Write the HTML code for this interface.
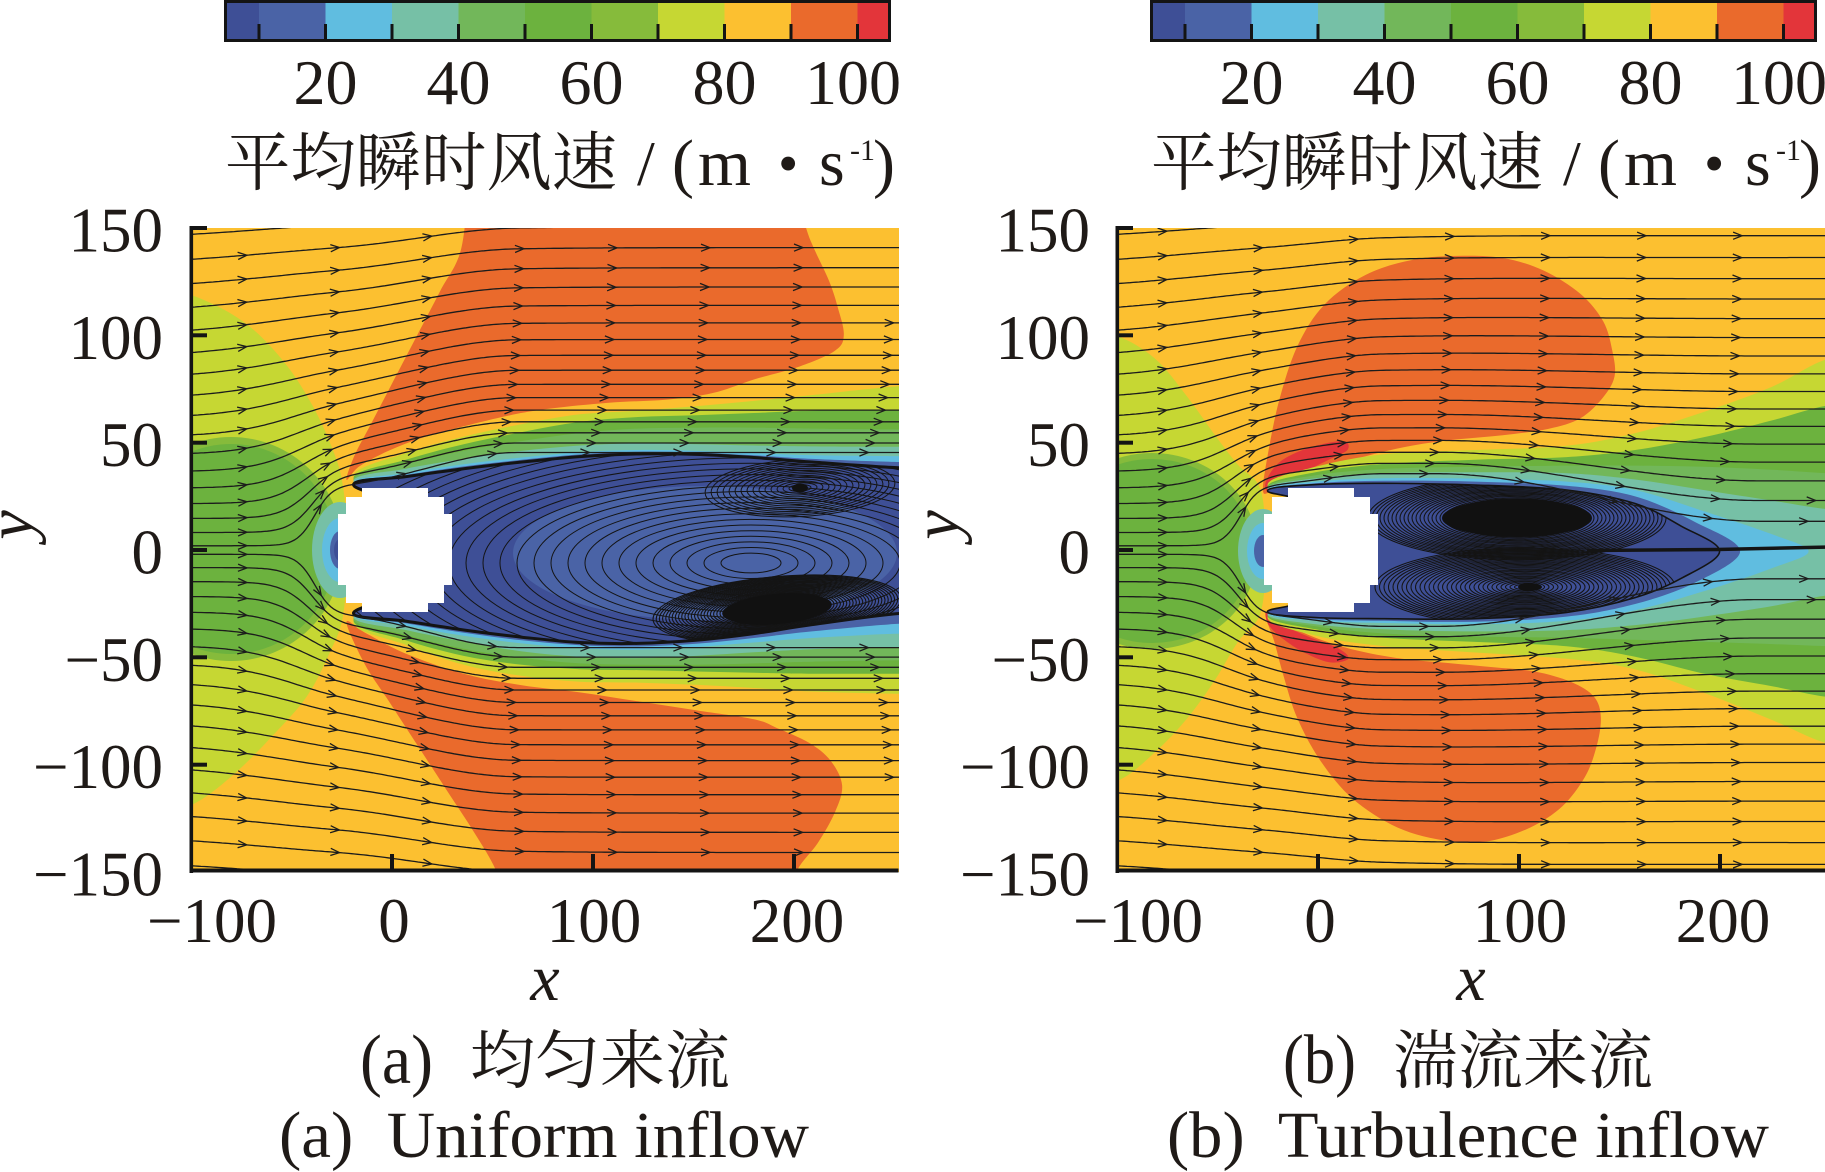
<!DOCTYPE html>
<html><head><meta charset="utf-8">
<style>
html,body{margin:0;padding:0;background:#fff;}
svg{display:block;}
.t{font-family:"Liberation Serif","Noto Serif CJK SC",serif;fill:#1f1a17;}
.cjk{font-family:"Liberation Serif","Noto Serif CJK SC","Noto Sans CJK SC",serif;fill:#1f1a17;}
</style></head>
<body>
<svg id="root" width="1825" height="1172" viewBox="0 0 1825 1172" xmlns="http://www.w3.org/2000/svg">
<defs id="defs">
  <clipPath id="clipP"><rect x="0" y="0" width="708" height="644"/></clipPath>
</defs>

<!-- colorbar A -->
<g transform="translate(224,0)">
  <rect x="0" y="0" width="35" height="42" fill="#3e4f96"/>
  <rect x="35" y="0" width="66.5" height="42" fill="#4a63a6"/>
  <rect x="101.5" y="0" width="66.5" height="42" fill="#60bde0"/>
  <rect x="168" y="0" width="66.5" height="42" fill="#76c0a6"/>
  <rect x="234.5" y="0" width="66.5" height="42" fill="#72b75a"/>
  <rect x="301" y="0" width="66.5" height="42" fill="#6cb23e"/>
  <rect x="367.5" y="0" width="66.5" height="42" fill="#86bb3b"/>
  <rect x="434" y="0" width="66.5" height="42" fill="#c6d733"/>
  <rect x="500.5" y="0" width="66.5" height="42" fill="#fcc030"/>
  <rect x="567" y="0" width="66.5" height="42" fill="#ea6a2c"/>
  <rect x="633.5" y="0" width="33.5" height="42" fill="#e3353a"/>
  <g fill="#141414">
    <rect x="33.5" y="24" width="3" height="16"/><rect x="100" y="24" width="3" height="16"/>
    <rect x="166.5" y="24" width="3" height="16"/><rect x="233" y="24" width="3" height="16"/>
    <rect x="299.5" y="24" width="3" height="16"/><rect x="366" y="24" width="3" height="16"/>
    <rect x="432.5" y="24" width="3" height="16"/><rect x="499" y="24" width="3" height="16"/>
    <rect x="565.5" y="24" width="3" height="16"/><rect x="632" y="24" width="3" height="16"/>
  </g>
  <rect x="1.5" y="1.5" width="664" height="39" fill="none" stroke="#141414" stroke-width="3"/>
</g>
<!-- colorbar B -->
<g transform="translate(1150,0)">
  <rect x="0" y="0" width="35" height="42" fill="#3e4f96"/>
  <rect x="35" y="0" width="66.5" height="42" fill="#4a63a6"/>
  <rect x="101.5" y="0" width="66.5" height="42" fill="#60bde0"/>
  <rect x="168" y="0" width="66.5" height="42" fill="#76c0a6"/>
  <rect x="234.5" y="0" width="66.5" height="42" fill="#72b75a"/>
  <rect x="301" y="0" width="66.5" height="42" fill="#6cb23e"/>
  <rect x="367.5" y="0" width="66.5" height="42" fill="#86bb3b"/>
  <rect x="434" y="0" width="66.5" height="42" fill="#c6d733"/>
  <rect x="500.5" y="0" width="66.5" height="42" fill="#fcc030"/>
  <rect x="567" y="0" width="66.5" height="42" fill="#ea6a2c"/>
  <rect x="633.5" y="0" width="33.5" height="42" fill="#e3353a"/>
  <g fill="#141414">
    <rect x="33.5" y="24" width="3" height="16"/><rect x="100" y="24" width="3" height="16"/>
    <rect x="166.5" y="24" width="3" height="16"/><rect x="233" y="24" width="3" height="16"/>
    <rect x="299.5" y="24" width="3" height="16"/><rect x="366" y="24" width="3" height="16"/>
    <rect x="432.5" y="24" width="3" height="16"/><rect x="499" y="24" width="3" height="16"/>
    <rect x="565.5" y="24" width="3" height="16"/><rect x="632" y="24" width="3" height="16"/>
  </g>
  <rect x="1.5" y="1.5" width="664" height="39" fill="none" stroke="#141414" stroke-width="3"/>
</g>

<!-- plots -->
<g transform="translate(191,228)"><g id="fieldA" clip-path="url(#clipP)"></g></g>
<g transform="translate(1117,228)"><g id="fieldB" clip-path="url(#clipP)"></g></g>

<!-- axes A -->
<g fill="#141414">
  <rect x="189.5" y="226" width="3.6" height="647"/>
  <rect x="189.5" y="868.5" width="709" height="4"/>
  <rect x="191" y="226" width="16" height="4"/>
  <rect x="191" y="333.3" width="16" height="4"/>
  <rect x="191" y="440.7" width="16" height="4"/>
  <rect x="191" y="548" width="16" height="4"/>
  <rect x="191" y="655.3" width="16" height="4"/>
  <rect x="191" y="762.7" width="16" height="4"/>
  <rect x="390" y="854" width="4" height="16"/>
  <rect x="591" y="854" width="4" height="16"/>
  <rect x="792" y="854" width="4" height="16"/>
</g>
<!-- axes B -->
<g fill="#141414">
  <rect x="1115.5" y="226" width="3.6" height="647"/>
  <rect x="1115.5" y="868.5" width="712" height="4"/>
  <rect x="1117" y="226" width="16" height="4"/>
  <rect x="1117" y="333.3" width="16" height="4"/>
  <rect x="1117" y="440.7" width="16" height="4"/>
  <rect x="1117" y="548" width="16" height="4"/>
  <rect x="1117" y="655.3" width="16" height="4"/>
  <rect x="1117" y="762.7" width="16" height="4"/>
  <rect x="1316" y="854" width="4" height="16"/>
  <rect x="1517" y="854" width="4" height="16"/>
  <rect x="1718" y="854" width="4" height="16"/>
</g>

<!-- colorbar labels -->
<g class="t" font-size="64" text-anchor="middle">
  <text x="325.5" y="104">20</text><text x="458.5" y="104">40</text><text x="591.5" y="104">60</text><text x="724.5" y="104">80</text><text x="853" y="104">100</text>
  <text x="1251.5" y="104">20</text><text x="1384.5" y="104">40</text><text x="1517.5" y="104">60</text><text x="1650.5" y="104">80</text><text x="1779" y="104">100</text>
</g>
<!-- unit labels -->
<g>
  <text class="cjk" x="225" y="185" font-size="64" textLength="392" lengthAdjust="spacingAndGlyphs">平均瞬时风速</text>
  <text class="t" x="637" y="185" font-size="64">/</text>
  <text class="t" x="672" y="185" font-size="66">(</text>
  <text class="t" x="698" y="185" font-size="66" textLength="53" lengthAdjust="spacingAndGlyphs">m</text>
  <text class="t" x="778" y="183" font-size="58">•</text>
  <text class="t" x="819" y="185" font-size="66">s</text>
  <text class="t" x="850" y="160" font-size="30">-1</text>
  <text class="t" x="873" y="185" font-size="66">)</text>

  <text class="cjk" x="1151" y="185" font-size="64" textLength="392" lengthAdjust="spacingAndGlyphs">平均瞬时风速</text>
  <text class="t" x="1563" y="185" font-size="64">/</text>
  <text class="t" x="1598" y="185" font-size="66">(</text>
  <text class="t" x="1624" y="185" font-size="66" textLength="53" lengthAdjust="spacingAndGlyphs">m</text>
  <text class="t" x="1704" y="183" font-size="58">•</text>
  <text class="t" x="1745" y="185" font-size="66">s</text>
  <text class="t" x="1776" y="160" font-size="30">-1</text>
  <text class="t" x="1799" y="185" font-size="66">)</text>
</g>
<!-- y tick labels -->
<g class="t" font-size="63" text-anchor="end">
  <text x="163" y="251.5">150</text><text x="163" y="358.8">100</text><text x="163" y="466.2">50</text><text x="163" y="573.5">0</text><text x="163" y="680.8">−50</text><text x="163" y="788.2">−100</text><text x="163" y="895.5">−150</text>
  <text x="1090" y="251.5">150</text><text x="1090" y="358.8">100</text><text x="1090" y="466.2">50</text><text x="1090" y="573.5">0</text><text x="1090" y="680.8">−50</text><text x="1090" y="788.2">−100</text><text x="1090" y="895.5">−150</text>
</g>
<!-- x tick labels -->
<g class="t" font-size="63">
  <text x="277" y="942" text-anchor="end">−100</text><text x="394" y="942" text-anchor="middle">0</text><text x="594" y="942" text-anchor="middle">100</text><text x="797" y="942" text-anchor="middle">200</text>
  <text x="1203" y="942" text-anchor="end">−100</text><text x="1320" y="942" text-anchor="middle">0</text><text x="1520" y="942" text-anchor="middle">100</text><text x="1723" y="942" text-anchor="middle">200</text>
</g>
<!-- axis titles -->
<g class="t" font-size="66" font-style="italic">
  <text x="545" y="1000" text-anchor="middle">x</text>
  <text x="1471" y="1000" text-anchor="middle">x</text>
  <text transform="translate(32,525) rotate(-90)" text-anchor="middle">y</text>
  <text transform="translate(958,525) rotate(-90)" text-anchor="middle">y</text>
</g>
<!-- captions -->
<g>
  <text class="t" x="360" y="1083" font-size="70" textLength="73" lengthAdjust="spacingAndGlyphs">(a)</text>
  <text class="cjk" x="470" y="1083" font-size="64" textLength="260" lengthAdjust="spacingAndGlyphs">均匀来流</text>
  <text class="t" x="279" y="1157" font-size="66" textLength="530" lengthAdjust="spacingAndGlyphs">(a)&#160;&#160;Uniform inflow</text>

  <text class="t" x="1283" y="1083" font-size="70" textLength="73" lengthAdjust="spacingAndGlyphs">(b)</text>
  <text class="cjk" x="1393" y="1083" font-size="64" textLength="260" lengthAdjust="spacingAndGlyphs">湍流来流</text>
  <text class="t" x="1167" y="1157" font-size="66" textLength="602" lengthAdjust="spacingAndGlyphs">(b)&#160;&#160;Turbulence inflow</text>
</g>
</svg>

<script>
(function(){
const NS='http://www.w3.org/2000/svg';
const C={c1:'#3e4f96',c2:'#4a63a6',c3:'#60bde0',c4:'#76c0a6',c5:'#72b75a',c6:'#6cb23e',c7:'#86bb3b',c8:'#c6d733',c9:'#fcc030',c10:'#ea6a2c',c11:'#e3353a'};
const defs=document.getElementById('defs');
function mk(tag,a,p){const e=document.createElementNS(NS,tag);for(const k in a)e.setAttribute(k,a[k]);p.appendChild(e);return e;}
function f(v){return (Math.round(v*10)/10).toString();}
function cr(P,closed){
  const n=P.length;let d='M'+f(P[0][0])+' '+f(P[0][1]);
  const m=closed?n:n-1;
  for(let i=0;i<m;i++){
    const p0=closed?P[(i-1+n)%n]:P[Math.max(i-1,0)];
    const p1=P[i],p2=P[(i+1)%n];
    const p3=closed?P[(i+2)%n]:P[Math.min(i+2,n-1)];
    d+='C'+f(p1[0]+(p2[0]-p0[0])/6)+' '+f(p1[1]+(p2[1]-p0[1])/6)+' '+f(p2[0]-(p3[0]-p1[0])/6)+' '+f(p2[1]-(p3[1]-p1[1])/6)+' '+f(p2[0])+' '+f(p2[1]);
  }
  return d+(closed?'Z':'');
}
const zA=p=>[(p[0]-330)*0.5803,(p[1]-60)*0.4457];
const zB=p=>[p[0]/2.19-7,p[1]/2.37-8];
function poly(g,pts,cv,fill){const d=cr(pts.map(cv),true);mk('path',{d:d,fill:fill},g);return d;}
function bandPts(xs,up,lo,left){
  const pts=[];for(let i=0;i<xs.length;i++)pts.push([xs[i],up[i]]);
  const xr=xs[xs.length-1]+90;pts.push([xr,up[up.length-1]]);pts.push([xr,lo[lo.length-1]]);
  for(let i=xs.length-1;i>=0;i--)pts.push([xs[i],lo[i]]);
  left.forEach(p=>pts.push(p));return pts;}
function ss(t){t=Math.max(0,Math.min(1,t));return t*t*(3-2*t);}
function streamlines(g,disp,first,spacing){
  const seeds=[];for(let k=0;k<22;k++)seeds.push(2+6*k+0.18*k*k);
  let all='',arr='';
  seeds.forEach((y0,k)=>{[1,-1].forEach(sg=>{
    const pts=[];
    for(let x=-101;x<=254;x+=1.5){const y=sg*(y0+disp(x,y0));pts.push([(x+100)*2.008,(150-y)*2.147]);}
    if(pts.every(p=>p[1]<-5||p[1]>650))return;
    all+='M'+f(pts[0][0])+' '+f(pts[0][1]);for(let i=1;i<pts.length;i++)all+='L'+f(pts[i][0])+' '+f(pts[i][1]);
    let s=0,next=first;
    for(let i=1;i<pts.length;i++){const dx=pts[i][0]-pts[i-1][0],dy=pts[i][1]-pts[i-1][1];const L=Math.hypot(dx,dy);
      while(L>0&&s+L>=next){const t=(next-s)/L;const px=pts[i-1][0]+dx*t,py=pts[i-1][1]+dy*t;
        if(px>4&&px<703&&py>3&&py<641){const ux=dx/L,uy=dy/L;const a=9,b=3.6;
          arr+='M'+f(px-ux*a-uy*b)+' '+f(py-uy*a+ux*b)+'L'+f(px)+' '+f(py)+'L'+f(px-ux*a+uy*b)+' '+f(py-uy*a-ux*b);}
        next+=spacing;}
      s+=L;}
  });});
  mk('path',{d:all,fill:'none',stroke:'#1c1c1c','stroke-width':1.3},g);
  mk('path',{d:arr,fill:'none',stroke:'#1c1c1c','stroke-width':1.3},g);
}
function rings(g,cx,cy,r0,r1,step,ratio,rot,sw){
  for(let r=r0;r<=r1;r+=step){mk('ellipse',{cx:f(cx),cy:f(cy),rx:f(r),ry:f(r*ratio),fill:'none',stroke:'#141414','stroke-width':sw,transform:'rotate('+rot+' '+f(cx)+' '+f(cy)+')'},g);}
}
const CYL="171,260 237,260 237,269 253,269 253,286 261,286 261,357 253,357 253,375 237,375 237,384 171,384 171,375 155,375 155,357 147,357 147,286 155,286 155,269 171,269";

/* ---------- Plot A ---------- */
(function(){
  const g=document.getElementById('fieldA');
  mk('rect',{x:-5,y:-5,width:720,height:660,fill:C.c9},g);
  poly(g,[[330,210],[420,270],[490,360],[540,460],[575,560],[592,640],[600,780],[592,930],[570,1010],[530,1110],[470,1200],[400,1290],[330,1355],[250,1380],[250,190]],zA,C.c8);
  poly(g,[[810,-40],[815,30],[1370,30],[1370,-40],[1390,60],[1405,110],[1430,180],[1445,240],[1455,300],[1440,335],[1380,370],[1300,400],[1230,430],[1150,445],[1050,452],[950,465],[880,480],[800,505],[730,530],[670,560],[620,595],[598,625],[612,570],[640,500],[680,400],[720,300],[760,200],[795,110]],zA,C.c10);
  poly(g,[[598,945],[630,1040],[670,1120],[720,1220],[770,1320],[820,1420],[855,1500],[870,1570],[1360,1570],[1375,1500],[1410,1440],[1440,1370],[1452,1310],[1432,1255],[1395,1215],[1340,1182],[1300,1162],[1200,1142],[1100,1122],[1000,1102],[900,1086],[800,1060],[700,1015],[630,968]],zA,C.c10);
  const xs=[610,700,800,900,1000,1100,1200,1300,1400,1550];
  const L=[[700,860],[700,700]];
  const B={
    c8:[[618,565,528,500,478,470,460,448,435,415],[945,995,1040,1065,1078,1080,1085,1092,1100,1105]],
    c6:[[622,580,545,518,495,484,480,475,470,468],[940,985,1020,1040,1050,1052,1055,1058,1060,1060]],
    c5:[[625,590,560,538,520,510,508,508,510,512],[936,973,1004,1024,1037,1040,1040,1037,1033,1030]],
    c4:[[628,600,578,560,548,543,545,548,550,551],[932,962,988,1010,1022,1025,1020,1012,1005,1000]],
    c3:[[632,610,590,575,563,558,560,565,570,572],[928,952,975,992,1003,1006,1000,990,980,970]],
    c2:[[634,614,595,580,568,562,564,570,578,585],[926,947,968,985,996,999,993,980,965,948]],
    c1:[[636,618,600,585,573,567,568,575,585,598],[924,942,962,978,990,992,985,970,950,925]]
  };
  let wakeD='';
  ['c8','c6','c5','c4','c3','c2','c1'].forEach(k=>{const d=poly(g,bandPts(xs,B[k][0],B[k][1],L),zA,C[k]);if(k==='c1')wakeD=d;});
  mk('ellipse',{cx:40,cy:321,rx:112,ry:112,fill:C.c7},g);
  mk('ellipse',{cx:40,cy:321,rx:105,ry:105,fill:C.c6},g);
  mk('ellipse',{cx:149,cy:322,rx:28,ry:48,fill:C.c4},g);
  mk('ellipse',{cx:149,cy:322,rx:18,ry:32,fill:C.c3},g);
  mk('ellipse',{cx:149,cy:322,rx:10,ry:19,fill:C.c2},g);
  mk('ellipse',{cx:149,cy:322,rx:6,ry:11,fill:C.c1},g);
  const cp=mk('clipPath',{id:'wA'},defs);mk('path',{d:wakeD},cp);
  const w=mk('g',{'clip-path':'url(#wA)'},g);
  mk('ellipse',{cx:514,cy:325,rx:192,ry:67,fill:C.c2},w);
  rings(w,560,335,30,430,17,0.33,0,1);
  rings(w,609,260,5,100,6,0.3,-3,1);
  mk('ellipse',{cx:609,cy:260,rx:8,ry:4.5,fill:'#111'},w);
  rings(w,586,381,6,126,3.2,0.26,-5,1.1);
  mk('ellipse',{cx:586,cy:381,rx:55,ry:15,fill:'#111',transform:'rotate(-5 586 381)'},w);
  mk('path',{d:wakeD,fill:'none',stroke:'#141414','stroke-width':3},g);
  const dispA=(x,y0)=>{const a=Math.abs(y0);const wd=8+0.5*a,xc=-38-0.15*a;const S=0.5*(1+Math.tanh((x-xc)/wd));
    const H=29+15*ss((x+28)/90);return S*H*Math.exp(-a/150);};
  streamlines(g,dispA,58,93);
  mk('polygon',{points:CYL,fill:'#fff'},g);
})();

/* ---------- Plot B ---------- */
(function(){
  const g=document.getElementById('fieldB');
  mk('rect',{x:-5,y:-5,width:720,height:660,fill:C.c9},g);
  poly(g,[[15,275],[100,330],[170,420],[230,510],[280,580],[330,640],[340,785],[330,930],[280,1000],[230,1090],[170,1180],[100,1260],[15,1330],[-80,1340],[-80,265]],zB,C.c8);
  poly(g,[[335,640],[345,560],[370,430],[410,300],[470,200],[560,130],[660,95],[760,85],[860,90],[950,120],[1030,175],[1080,240],[1100,310],[1105,370],[1080,420],[1030,470],[960,495],[860,510],[760,520],[660,535],[560,560],[470,590],[400,620],[350,645]],zB,C.c10);
  poly(g,[[340,930],[360,1000],[380,1080],[410,1180],[460,1280],[530,1370],[630,1440],[740,1472],[830,1472],[920,1440],[990,1390],[1040,1320],[1065,1250],[1075,1180],[1060,1130],[1010,1095],[930,1070],[840,1060],[740,1050],[640,1040],[540,1020],[450,990],[380,955]],zB,C.c10);
  poly(g,[[340,625],[365,580],[410,550],[470,530],[515,525],[520,545],[485,565],[430,595],[380,625],[350,645]],zB,C.c11);
  poly(g,[[345,930],[380,960],[440,990],[500,1015],[522,1040],[480,1048],[420,1022],[370,985],[345,955]],zB,C.c11);
  const xs=[345,450,600,800,1000,1150,1300,1450,1570];
  const L=[[450,880],[450,690]];
  const B={
    c8:[[628,585,555,545,535,505,455,395,330],[942,985,1010,1025,1040,1065,1120,1185,1240]],
    c6:[[632,598,578,568,562,545,515,475,440],[938,970,990,1000,1010,1035,1075,1105,1130]],
    c5:[[634,605,590,585,582,582,585,592,600],[936,963,980,987,990,995,1000,1005,1010]],
    c4:[[636,612,600,598,600,615,640,665,685],[934,958,970,975,972,960,940,915,890]]
  };
  ['c8','c6','c5','c4'].forEach(k=>poly(g,bandPts(xs,B[k][0],B[k][1],L),zB,C[k]));
  poly(g,[[345,639],[450,620],[600,612],[800,613],[1000,620],[1150,640],[1300,690],[1450,745],[1530,785],[1450,825],[1300,880],[1150,925],[1000,950],[800,958],[600,955],[450,950],[345,931],[450,880],[450,690]],zB,C.c3);
  poly(g,[[345,641],[450,624],[600,618],[800,620],[1000,630],[1150,655],[1280,715],[1380,785],[1280,860],[1150,910],[1000,940],[800,952],[600,950],[450,946],[345,929],[450,880],[450,690]],zB,C.c2);
  const wakeD=poly(g,[[345,642],[450,627],[600,624],[800,628],[1000,640],[1150,672],[1250,725],[1335,785],[1250,850],[1150,895],[1000,930],[800,945],[600,945],[450,942],[345,928],[450,880],[450,690]],zB,C.c1);
  mk('ellipse',{cx:35,cy:323,rx:106,ry:98,fill:C.c7},g);
  mk('ellipse',{cx:35,cy:323,rx:100,ry:92,fill:C.c6},g);
  mk('ellipse',{cx:146,cy:323,rx:25,ry:42,fill:C.c4},g);
  mk('ellipse',{cx:146,cy:323,rx:16,ry:28,fill:C.c3},g);
  mk('ellipse',{cx:146,cy:323,rx:9,ry:16,fill:C.c2},g);
  const cp=mk('clipPath',{id:'wB'},defs);mk('path',{d:wakeD},cp);
  const w=mk('g',{'clip-path':'url(#wB)'},g);
  rings(w,400,290,5,150,4,0.28,0,1.05);
  mk('ellipse',{cx:400,cy:290,rx:75,ry:19,fill:'#111'},w);
  rings(w,408,359,6,150,4.5,0.26,0,1.05);
  mk('ellipse',{cx:413,cy:359,rx:12,ry:4,fill:'#111'},w);
  mk('path',{d:wakeD,fill:'none',stroke:'#141414','stroke-width':1.6},g);
  const dispB=(x,y0)=>{const a=Math.abs(y0);const wd=8+0.5*a,xc=-38-0.15*a;const S=0.5*(1+Math.tanh((x-xc)/wd));
    let H=29+5*ss((x+28)/60);H-=24*ss((x-60)/160)*Math.exp(-a/30);return S*H*Math.exp(-a/150);};
  streamlines(g,dispB,52,96);
  mk('path',{d:'M470 322.5 L600 321.5 L712 319',fill:'none',stroke:'#141414','stroke-width':3.5},g);
  mk('polygon',{points:CYL,fill:'#fff'},g);
})();
})();
</script>
</body></html>
